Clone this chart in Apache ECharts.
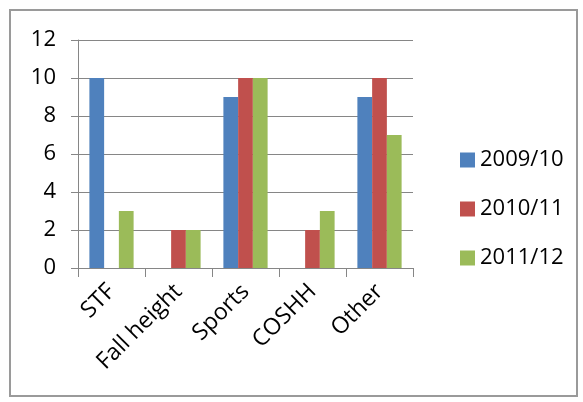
<!DOCTYPE html>
<html><head><meta charset="utf-8">
<script src="https://cdn.jsdelivr.net/npm/echarts@6/dist/echarts.min.js"></script>
<style>html,body{margin:0;padding:0;background:#fff}#c{width:583px;height:402px}</style>
</head><body><div id="c"></div>
<script>
const categories = ["STF", "Fall height", "Sports", "COSHH", "Other"];
const s2009 = [10, 0, 9, 0, 9];
const s2010 = [0, 2, 10, 2, 10];
const s2011 = [3, 2, 10, 3, 7];
const seriesNames = ["2009/10", "2010/11", "2011/12"];
const colors = ["#4F81BD", "#C0504D", "#9BBB59"];
const FONT = "Open Sans";
const chart = echarts.init(document.getElementById('c'), null, {renderer: 'canvas'});
const data = [s2009, s2010, s2011];
chart.setOption({
  animation: false,
  textStyle: {fontFamily: FONT},
  graphic: [{type: 'rect', shape: {x: 10, y: 10, width: 567, height: 386}, style: {fill: 'none', stroke: '#9a9a9a', lineWidth: 2}}],
  legend: {
    orient: 'vertical', left: 455, top: 144, itemWidth: 15, itemHeight: 15, itemGap: 27,
    icon: 'rect',
    textStyle: {fontSize: 22, color: '#000', fontFamily: FONT},
    data: seriesNames
  },
  grid: {left: 78, right: 170, top: 40, bottom: 134},
  xAxis: {
    type: 'category', data: categories,
    axisLine: {lineStyle: {color: '#868686', width: 1}},
    axisTick: {show: true, length: 9, lineStyle: {color: '#868686'}},
    axisLabel: {rotate: 45, fontSize: 23, color: '#000', margin: 20, interval: 0, fontFamily: FONT}
  },
  yAxis: {
    type: 'value', min: 0, max: 12, interval: 2,
    axisLine: {show: true, lineStyle: {color: '#868686'}},
    axisTick: {show: true, length: 7, lineStyle: {color: '#868686'}},
    splitLine: {lineStyle: {color: '#868686', width: 1}},
    axisLabel: {fontSize: 22, color: '#000', margin: 22, fontFamily: FONT}
  },
  series: seriesNames.map((n, i) => ({
    name: n, type: 'bar', data: data[i], barGap: '0%', barCategoryGap: '34%',
    itemStyle: {color: colors[i]}
  }))
});
</script></body></html>
